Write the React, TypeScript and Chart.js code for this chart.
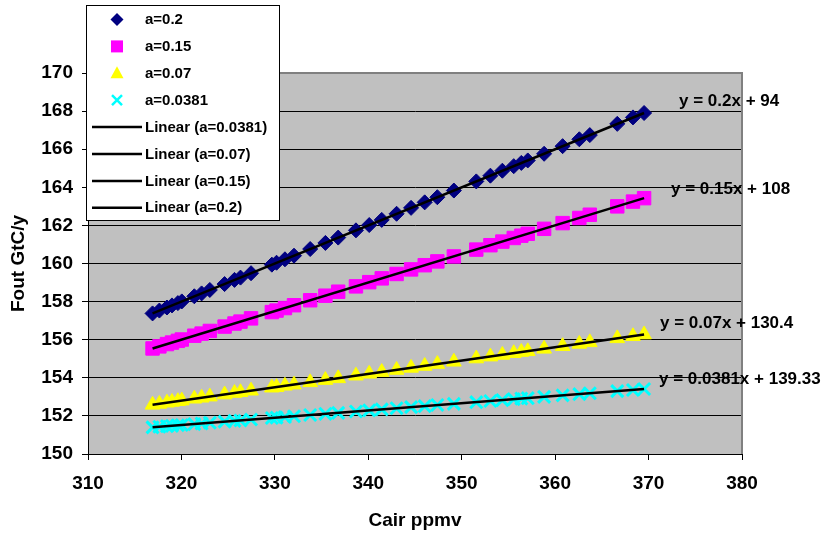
import React, { useEffect, useRef } from 'react';
import { Chart, registerables } from 'chart.js';

Chart.register(...registerables);

// Cair (ppmv), x values of every series
const cair = [
  316.91, 317.64, 318.45, 318.99, 319.62, 320.04, 321.38, 322.16, 323.04, 324.62,
  325.68, 326.32, 327.45, 329.68, 330.18, 331.08, 332.05, 333.78, 335.41, 336.78,
  338.68, 340.1, 341.44, 343.03, 344.58, 346.04, 347.39, 349.16, 351.56, 353.07,
  354.35, 355.57, 356.38, 357.07, 358.82, 360.8, 362.59, 363.71, 366.65, 368.33, 369.52,
];

// Fout GtC/y for each a
const foutA020 = [
  157.38, 157.53, 157.69, 157.8, 157.92, 158.01, 158.28, 158.43, 158.61, 158.92,
  159.14, 159.26, 159.49, 159.94, 160.04, 160.22, 160.41, 160.76, 161.08, 161.36,
  161.74, 162.02, 162.29, 162.61, 162.92, 163.21, 163.48, 163.83, 164.31, 164.61,
  164.87, 165.11, 165.28, 165.41, 165.76, 166.16, 166.52, 166.74, 167.33, 167.67, 167.9,
];
const foutA015 = [
  155.54, 155.65, 155.77, 155.85, 155.94, 156.01, 156.21, 156.32, 156.46, 156.69,
  156.85, 156.95, 157.12, 157.45, 157.53, 157.66, 157.81, 158.07, 158.31, 158.52,
  158.8, 159.02, 159.22, 159.45, 159.69, 159.91, 160.11, 160.37, 160.73, 160.96,
  161.15, 161.34, 161.46, 161.56, 161.82, 162.12, 162.39, 162.56, 163.0, 163.25, 163.43,
];
const foutA007 = [
  152.58, 152.63, 152.69, 152.73, 152.77, 152.8, 152.9, 152.95, 153.01, 153.12,
  153.2, 153.24, 153.32, 153.48, 153.51, 153.58, 153.64, 153.76, 153.88, 153.97,
  154.11, 154.21, 154.3, 154.41, 154.52, 154.62, 154.72, 154.84, 155.01, 155.11,
  155.2, 155.29, 155.35, 155.39, 155.52, 155.66, 155.78, 155.86, 156.07, 156.18, 156.27,
];
const foutA00381 = [
  151.4, 151.43, 151.46, 151.48, 151.51, 151.52, 151.57, 151.6, 151.64, 151.7,
  151.74, 151.76, 151.81, 151.89, 151.91, 151.94, 151.98, 152.05, 152.11, 152.16,
  152.23, 152.29, 152.34, 152.4, 152.46, 152.51, 152.57, 152.63, 152.72, 152.78,
  152.83, 152.88, 152.91, 152.93, 153.0, 153.08, 153.14, 153.19, 153.3, 153.36, 153.41,
];

// Linear trendline endpoints
const trendX = [316.91, 369.52];
const trendA020 = [157.38, 167.9];
const trendA015 = [155.54, 163.43];
const trendA007 = [152.58, 156.27];
const trendA00381 = [151.4, 153.41];

// Axis ticks
const xTicks = [310, 320, 330, 340, 350, 360, 370, 380];
const yTicks = [150, 152, 154, 156, 158, 160, 162, 164, 166, 168, 170];

// Texts
const seriesLabels = ['a=0.2', 'a=0.15', 'a=0.07', 'a=0.0381'];
const trendLabels = ['Linear (a=0.0381)', 'Linear (a=0.07)', 'Linear (a=0.15)', 'Linear (a=0.2)'];
const equations = ['y = 0.2x + 94', 'y = 0.15x + 108', 'y = 0.07x + 130.4', 'y = 0.0381x + 139.33'];
// equation label anchors (left edge, middle) in data units
const eqX = [373.26, 372.4, 371.22, 371.12];
const eqY = [168.53, 163.91, 156.88, 153.94];

const FONT = "'Liberation Sans', Arial, sans-serif";

const pts = (xs: number[], ys: number[]) => xs.map((x, i) => ({ x, y: ys[i] }));

function drawMarker(ctx: CanvasRenderingContext2D, style: string, x: number, y: number, color: string) {
  ctx.save();
  ctx.fillStyle = color;
  ctx.strokeStyle = color;
  ctx.beginPath();
  if (style === 'rectRot') {
    ctx.moveTo(x, y - 6.5);
    ctx.lineTo(x + 6.5, y);
    ctx.lineTo(x, y + 6.5);
    ctx.lineTo(x - 6.5, y);
    ctx.closePath();
    ctx.fill();
  } else if (style === 'rect') {
    ctx.rect(x - 6, y - 6, 12, 12);
    ctx.fill();
  } else if (style === 'triangle') {
    ctx.moveTo(x, y - 7);
    ctx.lineTo(x + 6.5, y + 5);
    ctx.lineTo(x - 6.5, y + 5);
    ctx.closePath();
    ctx.fill();
  } else if (style === 'crossRot') {
    ctx.lineWidth = 2.5;
    ctx.moveTo(x - 5, y - 5);
    ctx.lineTo(x + 5, y + 5);
    ctx.moveTo(x + 5, y - 5);
    ctx.lineTo(x - 5, y + 5);
    ctx.stroke();
  }
  ctx.restore();
}

const decorPlugin = {
  id: 'decor',
  beforeDraw(chart: any) {
    const { ctx, chartArea: a } = chart;
    ctx.save();
    ctx.fillStyle = '#C0C0C0';
    ctx.fillRect(a.left, a.top, a.right - a.left, a.bottom - a.top);
    ctx.restore();
  },
  beforeDatasetsDraw(chart: any) {
    const { ctx, chartArea: a } = chart;
    ctx.save();
    ctx.strokeStyle = '#808080';
    ctx.lineWidth = 2;
    ctx.beginPath();
    ctx.moveTo(a.left, a.top);
    ctx.lineTo(a.right, a.top);
    ctx.lineTo(a.right, a.bottom);
    ctx.stroke();
    ctx.restore();
  },
  afterDraw(chart: any) {
    const { ctx } = chart;
    const xs = chart.scales.x;
    const ys = chart.scales.y;
    ctx.save();
    // trendline equations
    ctx.fillStyle = '#000';
    ctx.font = `bold 17px ${FONT}`;
    ctx.textAlign = 'left';
    ctx.textBaseline = 'middle';
    equations.forEach((t, i) => {
      ctx.fillText(t, xs.getPixelForValue(eqX[i]), ys.getPixelForValue(eqY[i]));
    });

    // legend
    const bx = 86.5, by = 5.5, bw = 193, bh = 215;
    ctx.fillStyle = '#FFFFFF';
    ctx.fillRect(bx, by, bw, bh);
    ctx.strokeStyle = '#000';
    ctx.lineWidth = 1;
    ctx.strokeRect(bx, by, bw, bh);
    const rowY0 = 19.5, rowStep = 26.9;
    const ds = chart.data.datasets;
    const order = [0, 1, 2, 3, 4, 5, 6, 7];
    ctx.font = `bold 15px ${FONT}`;
    ctx.textBaseline = 'middle';
    order.forEach((di, r) => {
      const d = ds[di];
      const y = rowY0 + r * rowStep;
      if (d.showLine) {
        ctx.strokeStyle = '#000';
        ctx.lineWidth = 2.5;
        ctx.beginPath();
        ctx.moveTo(92, y);
        ctx.lineTo(142, y);
        ctx.stroke();
      } else {
        drawMarker(ctx, d.pointStyle, 117, y, d.backgroundColor);
      }
      ctx.fillStyle = '#000';
      ctx.fillText(d.label, 145, y + 0.5);
    });
    ctx.restore();
  },
};

export default function App() {
  const ref = useRef<HTMLCanvasElement>(null);

  useEffect(() => {
    if (!ref.current) return;
    const markerDs = (label: string, ys: number[], style: string, color: string, radius: number, order: number, bw = 1) => ({
      label,
      data: pts(cair, ys),
      showLine: false,
      pointStyle: style,
      pointRadius: radius,
      pointHoverRadius: radius,
      backgroundColor: color,
      borderColor: color,
      pointBorderWidth: bw,
      order,
    });
    const trendDs = (label: string, ys: number[]) => ({
      label,
      data: pts(trendX, ys),
      showLine: true,
      borderColor: '#000000',
      backgroundColor: '#000000',
      borderWidth: 2.5,
      pointRadius: 0,
      order: 0,
    });

    const chart = new Chart(ref.current, {
      type: 'scatter',
      data: {
        datasets: [
          markerDs(seriesLabels[0], foutA020, 'rectRot', '#000080', 7.5, 1),
          markerDs(seriesLabels[1], foutA015, 'rect', '#FF00FF', 9.5, 2),
          markerDs(seriesLabels[2], foutA007, 'triangle', '#FFFF00', 8.5, 3),
          markerDs(seriesLabels[3], foutA00381, 'crossRot', '#00FFFF', 8.5, 4, 3),
          trendDs(trendLabels[0], trendA00381),
          trendDs(trendLabels[1], trendA007),
          trendDs(trendLabels[2], trendA015),
          trendDs(trendLabels[3], trendA020),
        ] as any,
      },
      options: {
        animation: false,
        responsive: false,
        devicePixelRatio: 1,
        layout: { padding: { left: 0, right: 81, top: 73, bottom: 0 } },
        plugins: {
          legend: { display: false },
          tooltip: { enabled: false },
        },
        scales: {
          x: {
            type: 'linear',
            min: 310,
            max: 380,
            afterBuildTicks: (s: any) => {
              s.ticks = xTicks.map((v) => ({ value: v }));
            },
            afterFit: (s: any) => {
              s.height = 79;
            },
            ticks: {
              color: '#000',
              font: { family: FONT, size: 19, weight: 'bold' },
              padding: 12,
              maxRotation: 0,
              autoSkip: false,
            },
            grid: {
              drawOnChartArea: false,
              drawTicks: true,
              tickLength: 6,
              color: '#000',
              tickColor: '#000',
            },
            border: { display: true, color: '#000', width: 1 },
            title: {
              display: true,
              text: 'Cair ppmv',
              color: '#000',
              font: { family: FONT, size: 19, weight: 'bold' },
              padding: { top: 0, bottom: 1 },
            },
          },
          y: {
            type: 'linear',
            min: 150,
            max: 170,
            afterBuildTicks: (s: any) => {
              s.ticks = yTicks.map((v) => ({ value: v }));
            },
            afterFit: (s: any) => {
              s.width = 88;
            },
            ticks: {
              color: '#000',
              font: { family: FONT, size: 19, weight: 'bold' },
              padding: 9,
              autoSkip: false,
            },
            grid: {
              drawOnChartArea: true,
              drawTicks: true,
              tickLength: 6,
              color: (c: any) => (c.tick && c.tick.value === 170 ? '#808080' : '#000000'),
              tickColor: '#000',
              lineWidth: 1,
            },
            border: { display: true, color: '#000', width: 1 },
            title: {
              display: true,
              text: 'Fout GtC/y',
              color: '#000',
              font: { family: FONT, size: 19, weight: 'bold' },
              padding: { top: 7, bottom: 0 },
            },
          },
        },
      } as any,
      plugins: [decorPlugin],
    });
    return () => chart.destroy();
  }, []);

  return (
    <div style={{ position: 'absolute', left: 0, top: 0, width: 823, height: 533 }}>
      <canvas ref={ref} width={823} height={533} style={{ display: 'block' }} />
    </div>
  );
}
